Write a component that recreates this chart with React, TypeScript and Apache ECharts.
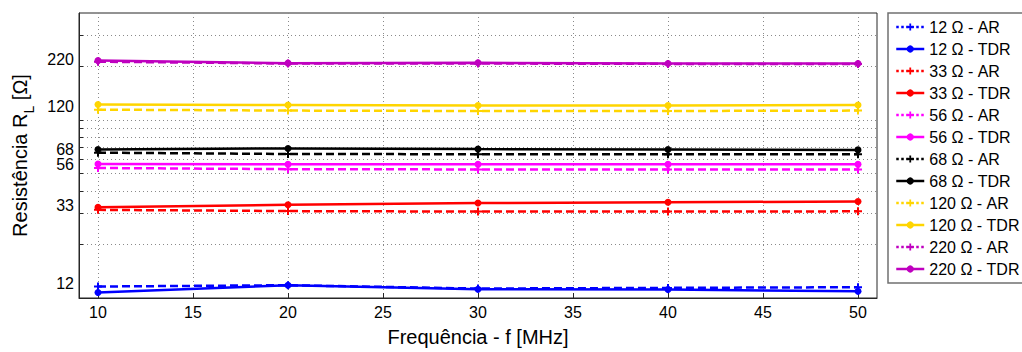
import React, { useEffect, useRef } from "react";
import * as echarts from "echarts";

const frequencies = [10, 20, 30, 40, 50];
const r12AR = [11.6, 11.8, 11.3, 11.4, 11.5];
const r12TDR = [10.75, 11.8, 11.2, 11.15, 10.9];
const r33AR = [31.3, 30.8, 30.6, 30.6, 30.7];
const r33TDR = [32.4, 33.4, 34.2, 34.5, 34.9];
const r56AR = [53.8, 53.0, 52.8, 52.8, 52.8];
const r56TDR = [56.6, 56.4, 56.4, 56.4, 56.4];
const r68AR = [65.6, 64.5, 64.3, 64.3, 64.3];
const r68TDR = [68.4, 69.3, 68.7, 68.4, 68.0];
const r120AR = [114.5, 113.1, 112.5, 112.5, 113.1];
const r120TDR = [122.5, 121.6, 120.9, 120.9, 121.6];
const r220AR = [213, 208, 208, 207, 207];
const r220TDR = [216, 209, 210, 208, 208];

const xTickValues = [10, 15, 20, 25, 30, 35, 40, 45, 50];
const yTickLabels = [12, 33, 56, 68, 120, 220];
const yGridValues = [20, 30, 40, 50, 60, 70, 80, 90, 100, 200, 300];

const seriesDefs = [
  { name: "12 Ω - AR", data: r12AR, color: "#0000FF", ar: true },
  { name: "12 Ω - TDR", data: r12TDR, color: "#0000FF", ar: false },
  { name: "33 Ω - AR", data: r33AR, color: "#FF0000", ar: true },
  { name: "33 Ω - TDR", data: r33TDR, color: "#FF0000", ar: false },
  { name: "56 Ω - AR", data: r56AR, color: "#FF00FF", ar: true },
  { name: "56 Ω - TDR", data: r56TDR, color: "#FF00FF", ar: false },
  { name: "68 Ω - AR", data: r68AR, color: "#000000", ar: true },
  { name: "68 Ω - TDR", data: r68TDR, color: "#000000", ar: false },
  { name: "120 Ω - AR", data: r120AR, color: "#FFD500", ar: true },
  { name: "120 Ω - TDR", data: r120TDR, color: "#FFD500", ar: false },
  { name: "220 Ω - AR", data: r220AR, color: "#BF00BF", ar: true },
  { name: "220 Ω - TDR", data: r220TDR, color: "#BF00BF", ar: false },
];

const FONT = 'Arial, "Liberation Sans", Helvetica, sans-serif';
const PLUS = "path://M3,0H5V3H8V5H5V8H3V5H0V3H3Z";

export default function App() {
  const ref = useRef<HTMLDivElement>(null);
  useEffect(() => {
    if (!ref.current) return;
    const chart = echarts.init(ref.current, null, { renderer: "svg" });
    const log = (v: number) => Math.log10(v);
    const option: any = {
      animation: false,
      backgroundColor: "#FFFFFF",
      textStyle: { fontFamily: FONT },
      grid: {
        left: 79,
        top: 13,
        right: 145,
        bottom: 49,
        show: true,
        borderColor: "#262626",
        borderWidth: 1,
        backgroundColor: "transparent",
      },
      legend: {
        orient: "vertical",
        left: 888,
        top: 13,
        padding: [6, 8, 6, 7],
        itemWidth: 28,
        itemHeight: 9,
        itemGap: 6,
        borderColor: "#707070",
        borderWidth: 1.5,
        backgroundColor: "#FFFFFF",
        textStyle: { fontSize: 16, color: "#000000", fontFamily: FONT },
        data: seriesDefs.map((s) => ({
          name: s.name,
          lineStyle: s.ar ? { type: "dotted", width: 2.5, color: s.color } : { width: 2.5, color: s.color },
        })),
      },
      xAxis: {
        type: "value",
        min: 9,
        max: 51,
        name: "Frequência - f [MHz]",
        nameLocation: "middle",
        nameGap: 29,
        nameTextStyle: { fontSize: 20, color: "#000000", fontFamily: FONT, verticalAlign: "top" },
        axisLine: { show: true, lineStyle: { color: "#262626", width: 1 } },
        axisTick: { show: true, inside: true, length: 5, customValues: xTickValues, lineStyle: { color: "#262626" } },
        axisLabel: { customValues: xTickValues, fontSize: 16, color: "#000000", margin: 6, fontFamily: FONT },
        splitLine: { show: true, lineStyle: { color: "#8a8a8a", type: [1, 3], width: 1 } },
      },
      yAxis: {
        type: "value",
        min: 1,
        max: log(400),
        name: "{a|Resistência R}{s|L}{a| [Ω]}",
        nameLocation: "middle",
        nameGap: 42,
        nameRotate: 90,
        nameTextStyle: {
          fontSize: 20,
          color: "#000000",
          fontFamily: FONT,
          rich: {
            a: { fontSize: 20, fontFamily: FONT, color: "#000000", verticalAlign: "top", lineHeight: 24 },
            s: { fontSize: 14, fontFamily: FONT, color: "#000000", verticalAlign: "top", padding: [12, 0, 0, 0], lineHeight: 16 },
          },
        },
        axisLine: { show: true, lineStyle: { color: "#262626", width: 1 } },
        axisTick: { show: true, inside: true, length: 4, customValues: yGridValues.map(log), lineStyle: { color: "#262626" } },
        axisLabel: {
          customValues: yTickLabels.map(log),
          formatter: (v: number) => String(Math.round(Math.pow(10, v))),
          fontSize: 16,
          color: "#000000",
          margin: 5,
          fontFamily: FONT,
        },
        splitLine: { show: true, lineStyle: { color: "#8a8a8a", type: [1, 3], width: 1 } },
      },
      series: seriesDefs.map((s) => ({
        name: s.name,
        type: "line",
        data: frequencies.map((f, i) => [f, log(s.data[i])]),
        symbol: s.ar ? PLUS : "circle",
        symbolSize: s.ar ? 8 : 7,
        showSymbol: true,
        lineStyle: { color: s.color, width: 2.5, type: s.ar ? [8, 4] : "solid" },
        itemStyle: { color: s.color, borderWidth: 0 },
        emphasis: { disabled: true },
      })),
    };
    chart.setOption(option);
    return () => chart.dispose();
  }, []);
  return (
    <div
      ref={ref}
      style={{ position: "absolute", left: 0, top: 0, width: 1022, height: 352, background: "#fff" }}
    />
  );
}
